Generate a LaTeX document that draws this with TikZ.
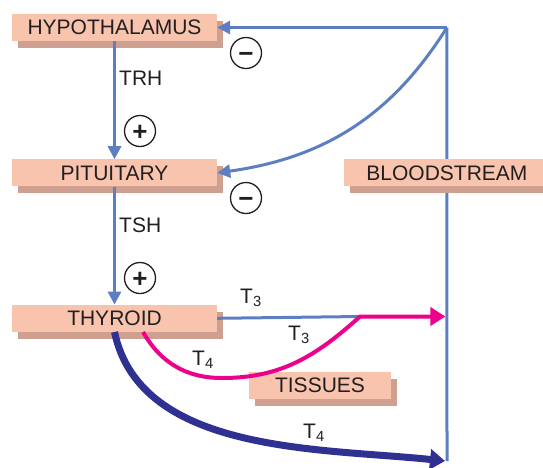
\documentclass[tikz,border=0pt]{standalone}
\usepackage{fontspec}
\setmainfont{Liberation Sans}
\usetikzlibrary{arrows.meta, positioning, shadows, backgrounds, calc}

\definecolor{gland}{HTML}{F9C4AE}
\definecolor{glandshade}{HTML}{CFA08F}
\definecolor{ink}{HTML}{231F20}
\definecolor{hormoneblue}{HTML}{5B7FC2}
\definecolor{freemagenta}{HTML}{EC008C}
\definecolor{boundnavy}{HTML}{2E3192}

\begin{document}
\begin{tikzpicture}[
    x=1pt, y=1pt,
    % --- Global styles ---
    node distance=118pt and 127pt,
    every node/.style={font=\fontsize{21}{25}\selectfont, text=ink},
    % --- Organ boxes ---
    organ/.style={
      fill=gland, inner sep=0pt,
      minimum height=27pt, minimum width=205pt,
      general shadow={fill=glandshade, shadow xshift=6pt, shadow yshift=-7pt},
    },
    small organ/.style={organ, minimum width=142pt},
    % --- Feedback signs ---
    sign/.style={
      circle, draw=ink, line width=1.3pt,
      minimum size=31pt, inner sep=0pt,
      text height=19.5pt, text depth=0pt,
      font=\fontsize{26}{26}\selectfont\bfseries,
    },
    % --- Arrow styles ---
    hormone/.style={-{Triangle[length=13pt,width=13pt]}, line width=3pt, draw=hormoneblue},
    free t3/.style={-{Triangle[length=15pt,width=18pt]}, line width=4pt,
                    draw=freemagenta, line join=round},
    bound t4/.style={-{Triangle[length=15pt,width=20pt]}, line width=7pt, draw=boundnavy},
    % --- Label style ---
    lbl/.style={inner sep=0pt, anchor=base west},
  ]
  \useasboundingbox (0,0) rectangle (543,-467);

  %% ---- Nodes (top to bottom) ----

  % Hypothalamus
  \node[organ] (hypo) at (114.5,-27.5) {HYPOTHALAMUS};

  % Pituitary
  \node[organ, below=of hypo] (pit) {PITUITARY};

  % Thyroid
  \node[organ, below=of pit] (thy) {THYROID};

  % Bloodstream (right of pituitary)
  \node[organ, right=of pit] (blood) {BLOODSTREAM};

  % Tissues
  \node[small organ] (tiss) at (320,-385.5) {TISSUES};

  %% ---- Points on the bloodstream ----

  \coordinate (bstop) at (hypo.east -| blood.center);
  \coordinate (bsbot) at (447,-461);
  \coordinate (t3join) at (360,-316.5);
  \coordinate (t4low) at (222,-378);

  \begin{scope}[on background layer]
    \draw[line width=3pt, draw=hormoneblue] (bstop) -- (bsbot);
  \end{scope}

  %% ---- Arrows ----

  \draw[hormone] (hypo) -- (pit);
  \draw[hormone] (pit) -- (thy);
  \draw[hormone] (bstop) -- (hypo.east);
  \draw[hormone] (bstop) to[out=238, in=8] (pit.east);
  \draw[line width=3pt, draw=hormoneblue] (thy.east) -- (t3join);
  \draw[free t3] ([xshift=28.5pt]thy.south) to[out=-60, in=180] (t4low)
    to[out=0, in=222] (t3join) -- ([xshift=-1.5pt]t3join -| bstop);
  \draw[bound t4] (thy.south) to[out=-78, in=174, looseness=0.9] ([xshift=-2pt]bsbot);

  %% ---- Signs ----

  \node[sign] (minus hypo) at (246,-53) {−};
  \node[sign] (minus pit) at (246,-198) {−};
  \node[sign] (plus pit) at (140,-131) {+};
  \node[sign] (plus thy) at (140,-278) {+};

  %% ---- Labels ----

  \node[lbl] (trh) at (119,-85) {TRH};
  \node[lbl] (tsh) at (119,-232) {TSH};
  \node[lbl] (t3 free) at (240,-303) {T\textsubscript{3}};
  \node[lbl] (t3 tiss) at (288,-340) {T\textsubscript{3}};
  \node[lbl] (t4 tiss) at (192,-365) {T\textsubscript{4}};
  \node[lbl] (t4 bound) at (303,-438) {T\textsubscript{4}};

\end{tikzpicture}
\end{document}
